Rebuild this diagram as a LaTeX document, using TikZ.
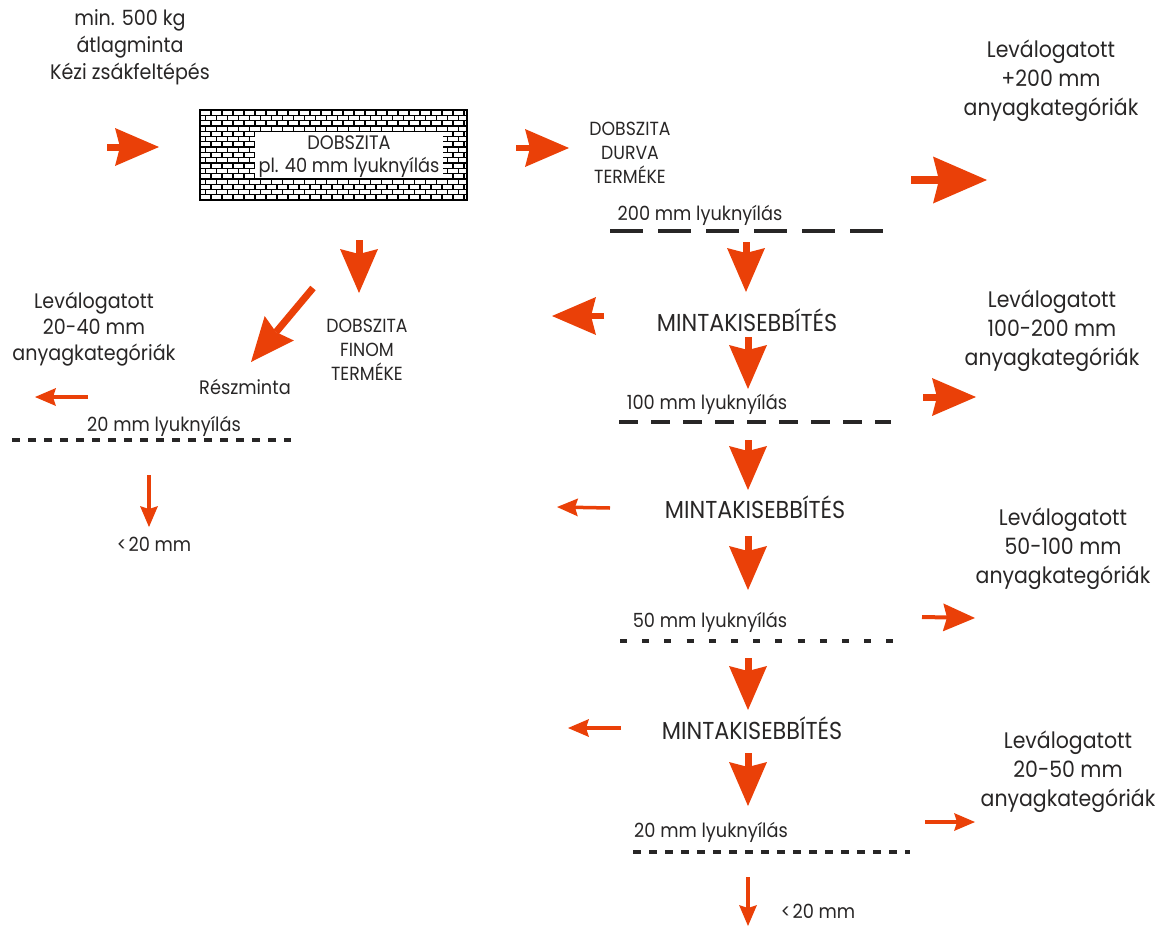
\documentclass[tikz,border=0pt]{standalone}
\usepackage{fontspec}
\setmainfont{Poppins}[FakeStretch=0.91]
\usepackage{tikz}
\usetikzlibrary{arrows.meta}
\pgfdeclarelayer{edgelayer}
\pgfdeclarelayer{nodelayer}
\pgfsetlayers{edgelayer,main,nodelayer}
\definecolor{txtgray}{RGB}{40,38,38}
\definecolor{flow}{RGB}{234,64,8}
\tikzstyle{lbl}=[text=txtgray, align=center, inner sep=0pt, font=\fontsize{19.5}{24}\selectfont]
\tikzstyle{catlbl}=[lbl, font=\fontsize{22.5}{29}\selectfont]
\tikzstyle{redlbl}=[lbl, font=\fontsize{24.5}{28}\selectfont]
\tikzstyle{sieve}=[draw=txtgray, line width=3.8pt]
\tikzstyle{brick}=[draw=black, line width=1.3pt]
\tikzstyle{fat}=[draw=flow, line width=7pt, -{Stealth[length=44pt, width=38pt, inset=5pt, line width'=0pt]}]
\tikzstyle{bigfat}=[draw=flow, line width=8pt, -{Stealth[length=54pt, width=47pt, inset=6pt, line width'=0pt]}]
\tikzstyle{midarrow}=[draw=flow, line width=4pt, -{Stealth[length=32pt, width=28pt, inset=4pt, line width'=0pt]}]
\tikzstyle{thin}=[draw=flow, line width=3.5pt, -{Stealth[length=21pt, width=18pt, inset=3pt, line width'=0pt]}]
\begin{document}
\begin{tikzpicture}[x=1pt, y=-1pt]
	\useasboundingbox (0,0) rectangle (1164,926);
	\begin{pgfonlayer}{nodelayer}
		% left column
		\node [style=lbl, font=\fontsize{21}{27}\selectfont] (feed) at (130,47) {min. 500 kg\\átlagminta\\Kézi zsákfeltépés};
		\node [style=lbl, font=\fontsize{19}{24}\selectfont] (fine) at (367,350) {DOBSZITA\\FINOM\\TERMÉKE};
		\node [style=lbl] (sub) at (245,387) {Részminta};
		\node [style=lbl, font=\fontsize{21}{26}\selectfont] (catL) at (94,329) {Leválogatott\\20-40 mm\\anyagkategóriák};
		\node [style=lbl] (sL20lbl) at (164,426) {20 mm lyuknyílás};
		\node [style=lbl] (fineL) at (154,544) {<\kern2pt 20 mm};
		% right column
		\node [style=lbl, font=\fontsize{19}{24}\selectfont] (coarse) at (630,153) {DOBSZITA\\DURVA\\TERMÉKE};
		\node [style=lbl] (s200lbl) at (700,215) {200 mm lyuknyílás};
		\node [style=redlbl] (red1) at (747,320) {MINTAKISEBBÍTÉS};
		\node [style=lbl] (s100lbl) at (707,404) {100 mm lyuknyílás};
		\node [style=redlbl] (red2) at (755,507) {MINTAKISEBBÍTÉS};
		\node [style=lbl] (s50lbl) at (710,622) {50 mm lyuknyílás};
		\node [style=redlbl] (red3) at (752,728) {MINTAKISEBBÍTÉS};
		\node [style=lbl] (s20lbl) at (711,832) {20 mm lyuknyílás};
		\node [style=lbl] (fine20) at (818,911) {<\kern2pt 20 mm};
		\node [style=catlbl] (cat200) at (1051,81) {Leválogatott\\+200 mm\\anyagkategóriák};
		\node [style=catlbl] (cat100) at (1052,331) {Leválogatott\\100-200 mm\\anyagkategóriák};
		\node [style=catlbl] (cat50) at (1063,549) {Leválogatott\\50-100 mm\\anyagkategóriák};
		\node [style=catlbl] (cat20) at (1068,772) {Leválogatott\\20-50 mm\\anyagkategóriák};
	\end{pgfonlayer}
	% drum sieve
	\node [draw=black, line width=2pt, minimum width=267pt, minimum height=90pt, inner sep=0pt] (drum) at (333.5,155) {};
	\begin{scope}
		\clip (drum.north west) rectangle (drum.south east);
		\foreach \r in {0,...,16} {
			\pgfmathsetmacro{\yt}{110+\r*5.3}
			\pgfmathsetmacro{\yb}{\yt+5.3}
			\pgfmathsetmacro{\sh}{mod(\r,2)*5.5}
			\draw [style=brick] (200,\yb) -- (467,\yb);
			\foreach \c in {0,...,24}
				\draw [style=brick] ({200+\sh+\c*11},\yt) -- ({200+\sh+\c*11},\yb);
		}
	\end{scope}
	\node [fill=white, minimum width=188pt, minimum height=46pt, inner sep=0pt] (drumwin) at (349,155) {};
	\node [style=lbl, font=\fontsize{19.5}{23}\selectfont] (drumlbl) at (349,157) {DOBSZITA\\pl. 40 mm lyuknyílás};
	% sieve lines
	\coordinate (s200a) at (610,231);
	\coordinate (s200b) at (883,231);
	\coordinate (s100a) at (619,422);
	\coordinate (s100b) at (891,422);
	\coordinate (s50a) at (620,641);
	\coordinate (s50b) at (894,641);
	\coordinate (s20a) at (633,852);
	\coordinate (s20b) at (910,852);
	\coordinate (sL20a) at (12,440);
	\coordinate (sL20b) at (291,440);
	\draw [style=sieve, dash pattern=on 33pt off 15pt] (s200a) -- (s200b);
	\draw [style=sieve, dash pattern=on 19pt off 13pt] (s100a) -- (s100b);
	\draw [style=sieve, dash pattern=on 7pt off 15.2pt] (s50a) -- (s50b);
	\draw [style=sieve, dash pattern=on 8pt off 8pt] (s20a) -- (s20b);
	\draw [style=sieve, dash pattern=on 7.5pt off 8.5pt] (sL20a) -- (sL20b);
	% flow arrows
	\coordinate (a1) at (107,147);   \coordinate (b1) at (159,147);
	\coordinate (a2) at (516,148);   \coordinate (b2) at (569,148);
	\coordinate (a3) at (911,180);   \coordinate (b3) at (987,180);
	\coordinate (a4) at (746,242);   \coordinate (b4) at (746,292);
	\coordinate (a5) at (748,337);   \coordinate (b5) at (748,389);
	\coordinate (a6) at (604,316);   \coordinate (b6) at (552,316);
	\coordinate (a7) at (748,440);   \coordinate (b7) at (748,490);
	\coordinate (a8) at (610,508);   \coordinate (b8) at (557,507);
	\coordinate (a9) at (748,536);   \coordinate (b9) at (748,590);
	\coordinate (a10) at (922,617);  \coordinate (b10) at (975,618);
	\coordinate (a11) at (748,658);  \coordinate (b11) at (748,710);
	\coordinate (a12) at (621,728);  \coordinate (b12) at (568,728);
	\coordinate (a13) at (748,753);  \coordinate (b13) at (748,806);
	\coordinate (a14) at (925,822);  \coordinate (b14) at (975,822);
	\coordinate (a15) at (748,877);  \coordinate (b15) at (748,926);
	\coordinate (a16) at (359,240);  \coordinate (b16) at (359,293);
	\coordinate (a17) at (313,288);  \coordinate (b17) at (251,362);
	\coordinate (a18) at (88,397);   \coordinate (b18) at (35,397);
	\coordinate (a19) at (149,475);  \coordinate (b19) at (149,527);
	\coordinate (a20) at (923,397);  \coordinate (b20) at (976,397);
	\begin{pgfonlayer}{edgelayer}
		\draw [style=fat] (a1) to (b1);
		\draw [style=fat, line width=6pt] (a2) to (b2);
		\draw [style=bigfat] (a3) to (b3);
		\draw [style=fat] (a4) to (b4);
		\draw [style=fat] (a5) to (b5);
		\draw [style=fat, line width=6pt] (a6) to (b6);
		\draw [style=fat] (a7) to (b7);
		\draw [style=thin] (a8) to (b8);
		\draw [style=fat] (a9) to (b9);
		\draw [style=midarrow] (a10) to (b10);
		\draw [style=fat] (a11) to (b11);
		\draw [style=thin] (a12) to (b12);
		\draw [style=fat] (a13) to (b13);
		\draw [style=thin] (a14) to (b14);
		\draw [style=thin] (a15) to (b15);
		\draw [style=fat] (a16) to (b16);
		\draw [style=fat] (a17) to (b17);
		\draw [style=thin] (a18) to (b18);
		\draw [style=thin] (a19) to (b19);
		\draw [style=fat] (a20) to (b20);
	\end{pgfonlayer}
\end{tikzpicture}
\end{document}
